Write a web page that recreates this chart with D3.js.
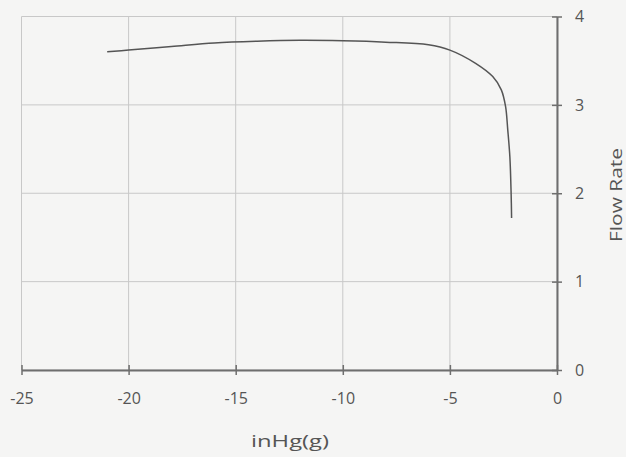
<!DOCTYPE html>
<html>
<head>
<meta charset="utf-8">
<script src="https://cdn.jsdelivr.net/npm/d3@7"></script>
<style>
  body { margin: 0; background: #f5f5f4; }
  svg { display: block; font-family: "Open Sans", sans-serif; }
</style>
</head>
<body>
<div id="chart"></div>
<script>
// pressure (inHg gauge) vs flow rate
const pressure = [-21, -20, -18, -16, -14, -12, -10, -8, -6, -5, -3.8, -3.0, -2.6, -2.4, -2.3, -2.2, -2.14, -2.12];
const flowRate = [3.60, 3.62, 3.66, 3.70, 3.72, 3.73, 3.725, 3.71, 3.68, 3.62, 3.47, 3.32, 3.17, 2.98, 2.72, 2.41, 1.98, 1.72];
const xTicks = [-25, -20, -15, -10, -5, 0];
const yTicks = [0, 1, 2, 3, 4];

const width = 626, height = 457;
const margins = {top: 16.5, right: 69, bottom: 87, left: 21.5};
const chartWidth = width - margins.left - margins.right;
const chartHeight = height - margins.top - margins.bottom;

const svg = d3.select("#chart").append("svg")
    .attr("width", width)
    .attr("height", height);

const chartGroup = svg.append("g")
    .attr("transform", `translate(${margins.left}, ${margins.top})`);

const xScale = d3.scaleLinear().domain([-25, 0]).range([0, chartWidth]);
const yScale = d3.scaleLinear().domain([0, 4]).range([chartHeight, 0]);

// grid
chartGroup.selectAll(".vgrid")
    .data(xTicks)
    .enter()
    .append("line")
    .attr("class", "vgrid")
    .attr("x1", d => xScale(d)).attr("x2", d => xScale(d))
    .attr("y1", 0).attr("y2", chartHeight)
    .style("stroke", "#c8c8c8");

chartGroup.selectAll(".hgrid")
    .data(yTicks)
    .enter()
    .append("line")
    .attr("class", "hgrid")
    .attr("x1", 0).attr("x2", chartWidth)
    .attr("y1", d => yScale(d)).attr("y2", d => yScale(d))
    .style("stroke", "#c8c8c8");

// axes (plain hyphen for negatives, like the original)
const xAxis = d3.axisBottom(xScale).tickValues(xTicks).tickFormat(d => String(d))
    .tickSizeInner(5).tickSizeOuter(0).tickPadding(18);
const yAxis = d3.axisRight(yScale).tickValues(yTicks).tickFormat(d => String(d))
    .tickSizeInner(5).tickSizeOuter(0).tickPadding(13);

const gx = chartGroup.append("g")
    .attr("class", "xaxis")
    .attr("transform", `translate(0, ${chartHeight})`)
    .call(xAxis);

const gy = chartGroup.append("g")
    .attr("class", "yaxis")
    .attr("transform", `translate(${chartWidth}, 0)`)
    .call(yAxis);

[gx, gy].forEach(g => {
    g.select(".domain").style("stroke", "#6e6e6e").style("stroke-width", 2);
    g.selectAll(".tick line").style("stroke", "#6e6e6e").style("stroke-width", 1.5);
    g.selectAll(".tick text").style("fill", "#555").attr("font-size", 16).attr("font-family", "Open Sans, sans-serif");
});
// ticks cross the axis line
gx.selectAll(".tick line").attr("y1", -5);
gy.selectAll(".tick line").attr("x1", -5);

// curve
const points = pressure.map((p, i) => ({x: p, y: flowRate[i]}));
const line = d3.line()
    .x(d => xScale(d.x))
    .y(d => yScale(d.y))
    .curve(d3.curveCatmullRom.alpha(0.5));

chartGroup.append("path")
    .datum(points)
    .attr("d", line)
    .style("fill", "none")
    .style("stroke", "#555")
    .style("stroke-width", 1.5);

// titles (the scan is a bit wide, so stretch them)
svg.append("text")
    .attr("x", 290)
    .attr("y", 447)
    .attr("text-anchor", "middle")
    .attr("font-size", 17)
    .attr("textLength", 78)
    .attr("lengthAdjust", "spacingAndGlyphs")
    .style("fill", "#555")
    .text("inHg(g)");

svg.append("text")
    .attr("transform", "translate(622, 195) rotate(-90)")
    .attr("text-anchor", "middle")
    .attr("font-size", 17)
    .attr("textLength", 94)
    .attr("lengthAdjust", "spacingAndGlyphs")
    .style("fill", "#555")
    .text("Flow Rate");
</script>
</body>
</html>
